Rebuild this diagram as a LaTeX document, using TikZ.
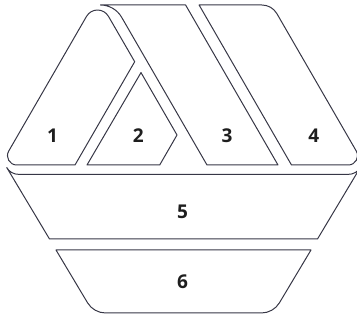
\documentclass[tikz,border=0pt]{standalone}
\usepackage{fontspec}
\setmainfont{Open Sans}
\usepackage{tikz}
\definecolor{logoline}{RGB}{55,55,70}
\definecolor{logotext}{RGB}{30,30,30}

\begin{document}
\begin{tikzpicture}[
  x=1pt, y=-1pt,
  panel/.style={draw=logoline, line width=1pt, line join=round},
  num/.style={font=\fontsize{19}{21}\selectfont\bfseries,
    text=logotext, inner sep=0pt}
]
\useasboundingbox (0,0) rectangle (357,320);

% top row
\draw[panel] (108.5,16.4) -- (134.7,61.7) -- (75,165) -- (16.7,165)
  .. controls (9.6,165) and (5.15,157.3) .. (8.7,151.1) -- (86.5,16.4)
  .. controls (91.4,7.9) and (103.6,7.9) .. cycle;
\draw[panel] (141,72.6) -- (177,135) -- (159.7,165) -- (87,165) -- cycle;
\draw[panel] (100.5,5) -- (185.6,5) -- (278,165) -- (207,165) -- (121.6,17.2)
  .. controls (117.2,9.65) and (109.2,5) .. cycle;
\draw[panel] (199.1,5) -- (261.9,5)
  .. controls (268.1,5) and (273.8,8.3) .. (276.9,13.66) -- (356.3,151.1)
  .. controls (359.85,157.3) and (355.4,165) .. (348.3,165) -- (291.5,165) -- cycle;

% middle band
\draw[panel] (6.7,167.5) .. controls (9,171.5) and (13,174.5) .. (20,174.5)
  -- (347,174.5) .. controls (354,174.5) and (358,171.5) .. (360.3,167.5)
  -- (317.5,239) -- (49.5,239) -- cycle;

% bottom band
\draw[panel] (56,250) -- (311,250) -- (279.5,302.7)
  .. controls (275.7,309.1) and (268.7,313) .. (261.3,313) -- (105.7,313)
  .. controls (98.3,313) and (91.3,309.1) .. (87.5,302.7) -- cycle;

\foreach \n/\x/\y in {1/52.5/135.5, 2/138.3/135.5, 3/227/135.5,
                      4/313.7/135.5, 5/182.5/211.7, 6/182.5/282}
  \node[num] (num\n) at (\x,\y) {\n};
\end{tikzpicture}
\end{document}
